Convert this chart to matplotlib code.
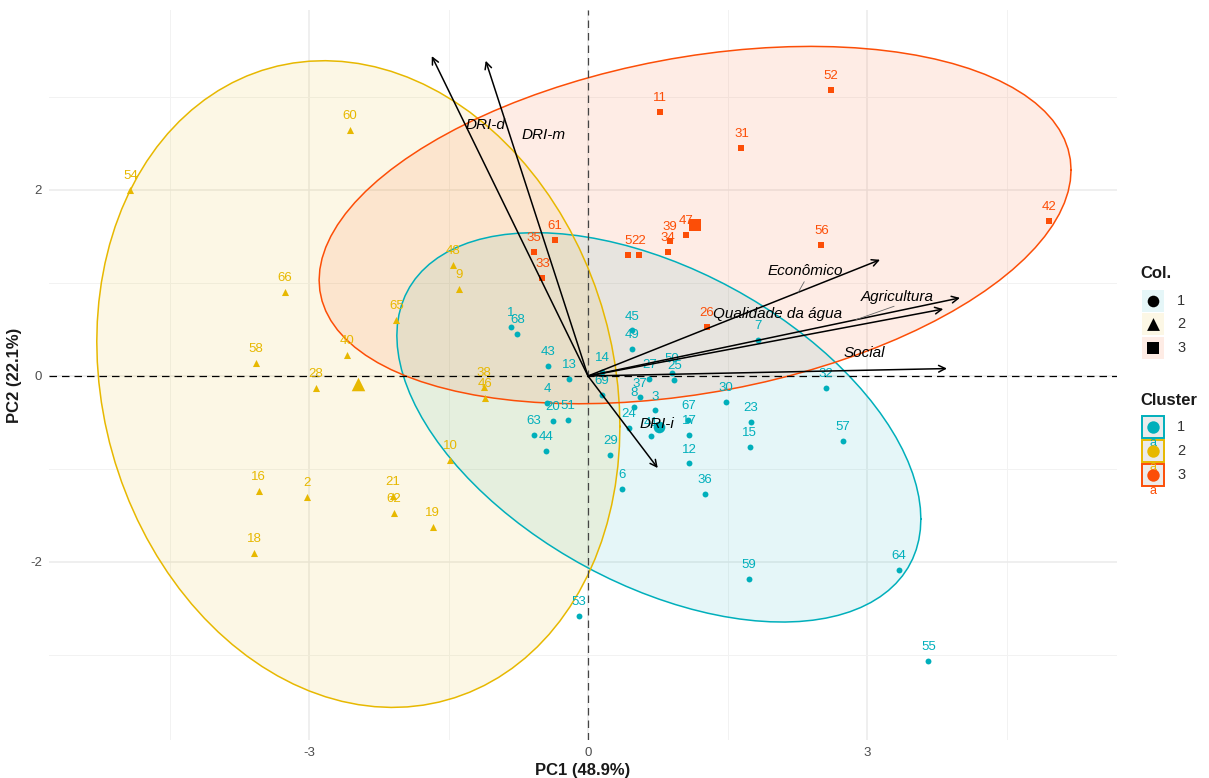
import matplotlib
matplotlib.use('Agg')
import matplotlib.pyplot as plt
from matplotlib.patches import Polygon, Rectangle
import numpy as np

plt.rcParams['font.family'] = ['Liberation Sans', 'DejaVu Sans']
plt.rcParams['axes.unicode_minus'] = False

# individuals (PC1, PC2) by cluster
c1_ids = [1, 3, 4, 6, 7, 8, 12, 13, 14, 15, 17, 20, 23, 24, 25, 27, 29, 30, 32, 36, 37, 41,
          43, 44, 45, 49, 50, 51, 53, 55, 57, 59, 63, 64, 67, 68, 69]
c1_x = [-0.83, 0.72, -0.44, 0.37, 1.83, 0.49, 1.09, -0.20, 0.15, 1.74, 1.09, -0.38, 1.75, 0.44,
        0.93, 0.66, 0.24, 1.48, 2.56, 1.26, 0.56, 0.68, -0.43, -0.45, 0.47, 0.47, 0.90, -0.22,
        -0.10, 3.66, 2.74, 1.73, -0.58, 3.34, 1.08, -0.76, 0.15]
c1_y = [0.53, -0.37, -0.29, -1.21, 0.39, -0.33, -0.94, -0.03, 0.04, -0.76, -0.63, -0.48, -0.49,
        -0.56, -0.04, -0.03, -0.85, -0.28, -0.13, -1.27, -0.23, -0.65, 0.11, -0.81, 0.49, 0.29,
        0.03, -0.47, -2.58, -3.06, -0.70, -2.18, -0.63, -2.09, -0.47, 0.45, -0.20]

c2_ids = [2, 9, 10, 16, 18, 19, 21, 28, 38, 40, 46, 48, 54, 58, 60, 62, 65, 66]
c2_x = [-3.02, -1.39, -1.48, -3.54, -3.59, -1.67, -2.10, -2.93, -1.12, -2.59, -1.11, -1.45,
        -4.92, -3.57, -2.56, -2.09, -2.06, -3.26]
c2_y = [-1.30, 0.94, -0.90, -1.24, -1.90, -1.62, -1.29, -0.13, -0.12, 0.23, -0.24, 1.19,
        2.00, 0.14, 2.65, -1.47, 0.60, 0.90]

c3_ids = [5, 11, 22, 26, 31, 33, 34, 35, 39, 42, 47, 52, 56, 61]
c3_x = [0.43, 0.77, 0.55, 1.28, 1.65, -0.49, 0.86, -0.58, 0.88, 4.96, 1.05, 2.61, 2.51, -0.36]
c3_y = [1.30, 2.84, 1.30, 0.53, 2.45, 1.05, 1.33, 1.33, 1.45, 1.67, 1.52, 3.08, 1.41, 1.46]

# variables (arrow tips)
var_names = ['DRI-d', 'DRI-m', 'Econômico', 'Agricultura', 'Qualidade da água', 'Social', 'DRI-i']
var_x = [-1.68, -1.10, 3.14, 4.00, 3.82, 3.86, 0.75]
var_y = [3.44, 3.39, 1.25, 0.84, 0.72, 0.08, -0.99]

cluster_labels = ['1', '2', '3']
pc1_label = 'PC1 (48.9%)'
pc2_label = 'PC2 (22.1%)'

COLORS = ['#00AFBB', '#E7B800', '#FC4E07']
MARKERS = ['o', '^', 's']
# repelled label positions for variables
VAR_LABEL_POS = [(-1.10, 2.70), (-0.48, 2.59), (2.34, 1.13), (3.32, 0.85),
                 (2.04, 0.67), (2.97, 0.25), (0.74, -0.52)]


def ellipse_xy(x, y, level=0.95, n=100):
    pts = np.column_stack([x, y])
    center = pts.mean(axis=0)
    cov = np.cov(pts, rowvar=False)
    d = len(x) - 1
    f = d / 2 * ((1 - level) ** (-2 / d) - 1)
    radius = np.sqrt(2 * f)
    t = np.linspace(0, 2 * np.pi, n + 1)
    circle = np.column_stack([np.cos(t), np.sin(t)])
    u = np.linalg.cholesky(cov).T
    return center + radius * circle @ u


def main():
    W, H = 1209, 778
    fig = plt.figure(figsize=(W / 100, H / 100), dpi=100)
    left, right, top, bottom = 49, 1117, 10, 740
    ax = fig.add_axes([left / W, 1 - bottom / H, (right - left) / W, (bottom - top) / H])
    x0, s = 588, 93.0
    ax.set_xlim((left - x0) / s, (right - x0) / s)
    ax.set_ylim((376 - bottom) / s, (376 - top) / s)

    for sp in ax.spines.values():
        sp.set_visible(False)
    ax.set_xticks([-3, 0, 3])
    ax.set_xticks([-4.5, -1.5, 1.5, 4.5], minor=True)
    ax.set_yticks([-2, 0, 2])
    ax.set_yticks([-3, -1, 1, 3], minor=True)
    ax.tick_params(which='both', length=0, colors='#4D4D4D', labelsize=9.5, pad=5)
    ax.grid(which='major', color='#EBEBEB', lw=1.1, zorder=0)
    ax.grid(which='minor', color='#F2F2F2', lw=0.7, zorder=0)
    ax.set_axisbelow(True)
    ax.set_xlabel(pc1_label, fontsize=12, fontweight='bold', color='#1A1A1A', labelpad=3)
    ax.set_ylabel(pc2_label, fontsize=12, fontweight='bold', color='#1A1A1A', labelpad=6)

    groups = [(c1_ids, c1_x, c1_y), (c2_ids, c2_x, c2_y), (c3_ids, c3_x, c3_y)]

    # ellipses
    for (ids, xs, ys), col in zip(groups, COLORS):
        e = ellipse_xy(np.array(xs), np.array(ys))
        ax.add_patch(Polygon(e, closed=True, fc=col, alpha=0.1, ec='none', zorder=1))
        ax.plot(e[:, 0], e[:, 1], color=col, lw=1.1, zorder=2)

    ax.axhline(0, color='black', lw=0.9, ls=(0, (6, 4)), zorder=3)
    ax.axvline(0, color='#444444', lw=0.9, ls=(0, (6, 4)), zorder=3)

    # points, labels, centroids
    for (ids, xs, ys), col, mk in zip(groups, COLORS, MARKERS):
        ax.scatter(xs, ys, s=18 if mk != '^' else 26, marker=mk, color=col, lw=0, zorder=4)
        for i, xv, yv in zip(ids, xs, ys):
            ax.annotate(str(i), (xv, yv), xytext=(0, 10), textcoords='offset points',
                        ha='center', va='center', fontsize=9.5, color=col, zorder=5)
        ax.scatter([np.mean(xs)], [np.mean(ys)], s=70 if mk != '^' else 95, marker=mk,
                   color=col, lw=0, zorder=4)

    # variable arrows
    for name, vx, vy, (lx, ly) in zip(var_names, var_x, var_y, VAR_LABEL_POS):
        ax.annotate('', xy=(vx, vy), xytext=(0, 0),
                    arrowprops=dict(arrowstyle='->', color='black', lw=1.1,
                                    shrinkA=0, shrinkB=0, mutation_scale=12), zorder=6)
        ax.text(lx, ly, name, fontsize=11, style='italic', color='black',
                ha='center', va='center', zorder=7)

    # repel segments
    for k, t in [(2, 0.72), (3, 0.72)]:
        lx, ly = VAR_LABEL_POS[k]
        ax.annotate('', xy=(var_x[k] * t, var_y[k] * t), xytext=(lx, ly - 0.09),
                    arrowprops=dict(arrowstyle='-', color='#666666', lw=0.6,
                                    shrinkA=2, shrinkB=0), zorder=6)

    # legends
    lax = fig.add_axes([0, 0, 1, 1])
    lax.set_xlim(0, W)
    lax.set_ylim(H, 0)
    lax.axis('off')
    lax.text(1140, 273, 'Col.', fontsize=12, fontweight='bold', color='#1A1A1A',
             ha='left', va='center')
    for k, (col, mk, lab) in enumerate(zip(COLORS, MARKERS, cluster_labels)):
        cy = [301, 324, 348][k]
        lax.add_patch(Rectangle((1142, cy - 11), 22, 22, fc=col, alpha=0.1, ec='none'))
        lax.scatter([1153], [cy], marker=mk, s=70 if mk != '^' else 85, color='black', lw=0)
        lax.text(1177, cy, lab, fontsize=10.5, color='#333333', ha='left', va='center')

    lax.text(1140, 400, 'Cluster', fontsize=12, fontweight='bold', color='#1A1A1A',
             ha='left', va='center')
    for k, (col, lab) in enumerate(zip(COLORS, cluster_labels)):
        cy = [427, 451, 475][k]
        lax.text(1153, cy + 16, 'a', fontsize=9, color=col, ha='center', va='center')
    for k, (col, lab) in enumerate(zip(COLORS, cluster_labels)):
        cy = [427, 451, 475][k]
        lax.add_patch(Rectangle((1142, cy - 11), 22, 22, fc='#EBEBEB', ec=col, lw=1.4))
        lax.scatter([1153], [cy], marker='o', s=80, color=col, lw=0, zorder=3)
        lax.text(1177, cy, lab, fontsize=10.5, color='#333333', ha='left', va='center')

    fig.savefig('out.png', dpi=100, facecolor='white')


if __name__ == '__main__':
    main()
